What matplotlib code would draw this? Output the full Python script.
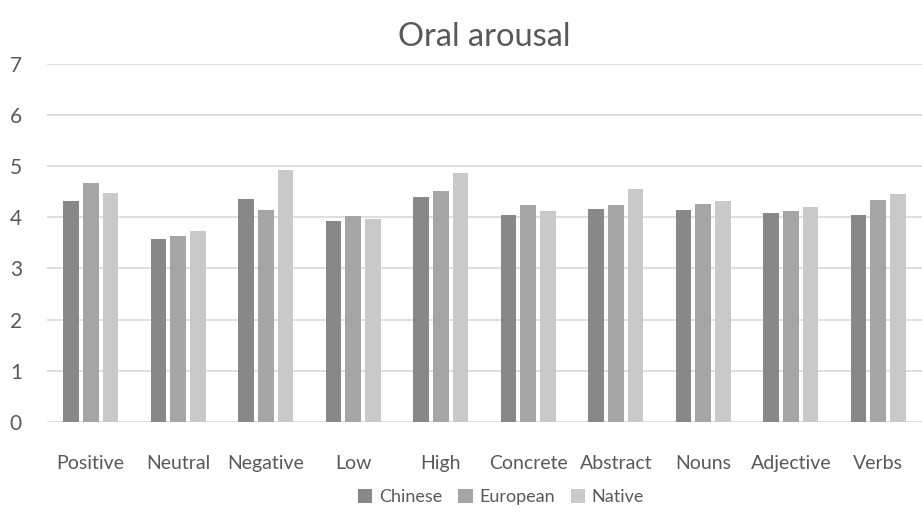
import matplotlib
matplotlib.use("Agg")
import matplotlib.pyplot as plt
import numpy as np

categories = ["Positive", "Neutral", "Negative", "Low", "High",
              "Concrete", "Abstract", "Nouns", "Adjective", "Verbs"]
chinese = [4.32, 3.58, 4.36, 3.92, 4.39, 4.04, 4.17, 4.14, 4.08, 4.04]
european = [4.68, 3.63, 4.14, 4.02, 4.51, 4.24, 4.24, 4.27, 4.12, 4.34]
native = [4.47, 3.74, 4.93, 3.97, 4.86, 4.12, 4.55, 4.32, 4.20, 4.46]
series_names = ["Chinese", "European", "Native"]
y_ticks = [0, 1, 2, 3, 4, 5, 6, 7]

plt.rcParams["font.family"] = ["Lato", "DejaVu Sans"]
text_color = "#595959"
colors = ["#888888", "#a5a5a5", "#c9c9c9"]

fig = plt.figure(figsize=(9.22, 5.15), dpi=100)
ax = fig.add_axes([47 / 922, 93.3 / 515, 875 / 922, 357.7 / 515])

x = np.arange(len(categories))
width = 0.178
step = 0.225
for i, (vals, name) in enumerate(zip([chinese, european, native], series_names)):
    ax.bar(x + (i - 1) * step, vals, width, color=colors[i], label=name, zorder=3)

ax.set_xlim(-0.5, len(categories) - 0.5)
ax.set_ylim(0, 7)
ax.set_yticks(y_ticks)
ax.set_xticks(x)
ax.set_xticklabels(categories)
ax.grid(axis="y", color="#d9d9d9", linewidth=1.2, zorder=0)
for s in ax.spines.values():
    s.set_visible(False)
ax.tick_params(axis="both", length=0, colors=text_color)
ax.tick_params(axis="y", pad=18, labelsize=15)
ax.tick_params(axis="x", pad=24, labelsize=14)

ax.set_title("Oral arousal", fontsize=23.5, color=text_color, pad=13)

fig.legend(loc="center", bbox_to_anchor=(501 / 922, 1 - 497 / 515), ncol=3,
           frameon=False, fontsize=13, labelcolor=text_color,
           handlelength=0.8, handleheight=0.8, handletextpad=0.35,
           columnspacing=0.9)

fig.savefig("out.png", dpi=100, facecolor="white")
